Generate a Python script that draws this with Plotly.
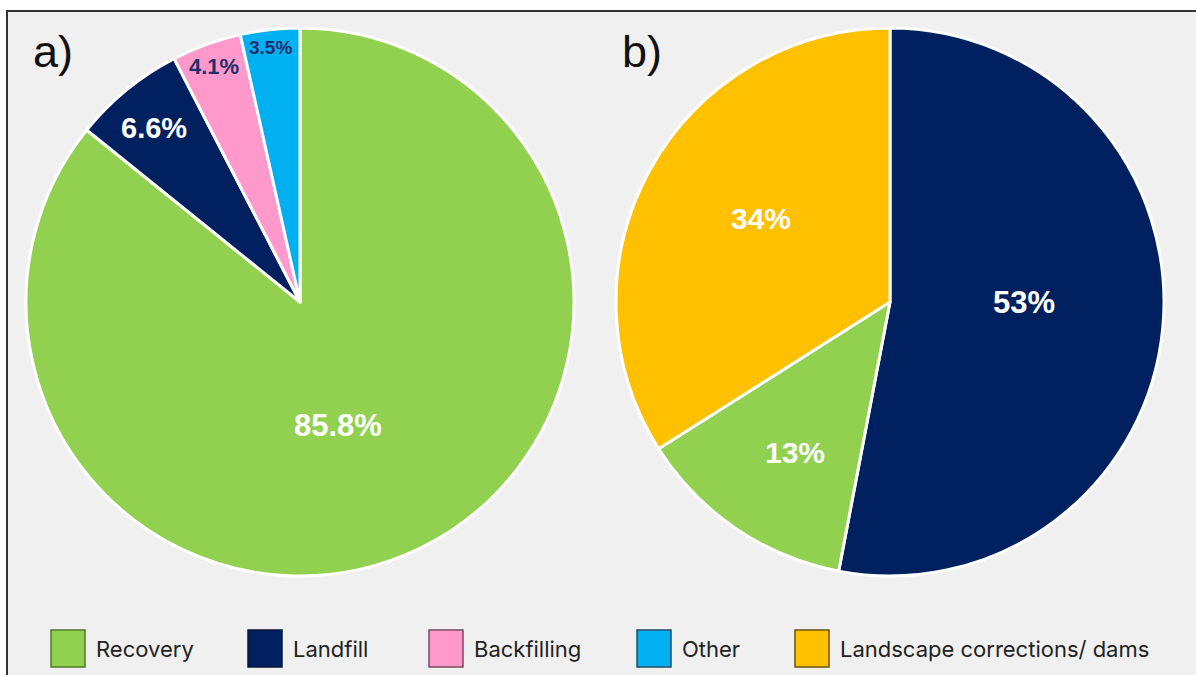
import math
import plotly.graph_objects as go

# Panel a) – fate of the material
cats_a = ["Recovery", "Landfill", "Backfilling", "Other"]
vals_a = [85.8, 6.6, 4.1, 3.5]
labels_a = ["85.8%", "6.6%", "4.1%", "3.5%"]

# Panel b) – uses of the recovered fraction
cats_b = ["Landfill", "Recovery", "Landscape corrections/ dams"]
vals_b = [53, 13, 34]
labels_b = ["53%", "13%", "34%"]

legend_items = ["Recovery", "Landfill", "Backfilling", "Other", "Landscape corrections/ dams"]

colors = {
    "Recovery": "#92d050",
    "Landfill": "#002060",
    "Backfilling": "#ff99cc",
    "Other": "#00b0f0",
    "Landscape corrections/ dams": "#ffc000",
}
edge_colors = {
    "Recovery": "#4f7a2a",
    "Landfill": "#0b1638",
    "Backfilling": "#7a4a60",
    "Other": "#1c4d66",
    "Landscape corrections/ dams": "#6b5210",
}

# label styling: colour, size, radial position (fraction of radius), angular nudge (deg)
lab_style_a = dict(color=["white", "white", "#1f2f6b", "#1f2f6b"], size=[31, 29, 22, 19],
                   rfrac=[0.473, 0.829, 0.915, 0.937], nudge=[8.6, -0.8, 0.0, -0.4])
lab_style_b = dict(color=["white", "white", "white"], size=[31, 30, 30],
                   rfrac=[0.489, 0.648, 0.56], nudge=[-5.0, -1.9, 4.0])

W, H = 1196, 675
def px_x(v):
    return v / W
def px_y(v):
    return 1 - v / H

# pie boxes in pixels (left, top, size)
box_a = (26, 28, 548)
box_b = (616, 28, 548)

fig = go.Figure()
shapes = [
    # framed light-grey panel
    dict(type="rect", xref="paper", yref="paper", x0=px_x(7), x1=1.01, y0=-0.01, y1=px_y(11),
         fillcolor="#f0f0f0", line=dict(color="#333333", width=2), layer="below"),
]
annotations = []

def add_pie(cats, vals, labels, style, box):
    left, top, size = box
    fig.add_trace(go.Pie(
        labels=cats, values=vals, textinfo="none",
        sort=False, direction="clockwise", rotation=0,
        marker=dict(colors=[colors[c] for c in cats], line=dict(color="white", width=3)),
        domain=dict(x=[px_x(left), px_x(left + size)], y=[px_y(top + size), px_y(top)]),
        showlegend=False, hoverinfo="label+percent",
    ))
    # value labels placed along each slice's bisector
    cx, cy, rad = left + size / 2, top + size / 2, size / 2
    total = sum(vals)
    start = 0.0
    for i, (v, lab) in enumerate(zip(vals, labels)):
        mid = (start + v / 2) / total * 360 + style["nudge"][i]
        start += v
        r = rad * style["rfrac"][i]
        x = cx + r * math.sin(math.radians(mid))
        y = cy - r * math.cos(math.radians(mid))
        annotations.append(dict(
            text="<b>%s</b>" % lab, x=px_x(x), y=px_y(y), xref="paper", yref="paper",
            xanchor="center", yanchor="middle", showarrow=False,
            font=dict(family="Liberation Sans, Arial", size=style["size"][i], color=style["color"][i]),
        ))

add_pie(cats_a, vals_a, labels_a, lab_style_a, box_a)
add_pie(cats_b, vals_b, labels_b, lab_style_b, box_b)

annotations += [
    dict(text="a)", x=px_x(31), y=px_y(52), xref="paper", yref="paper", xanchor="left",
         yanchor="middle", showarrow=False, font=dict(family="Liberation Sans, Arial", size=45, color="#111")),
    dict(text="b)", x=px_x(620), y=px_y(52), xref="paper", yref="paper", xanchor="left",
         yanchor="middle", showarrow=False, font=dict(family="Liberation Sans, Arial", size=45, color="#111")),
]

# custom legend with large square swatches
legend_x = [51, 248, 429, 637, 795]
for name, lx in zip(legend_items, legend_x):
    shapes.append(dict(type="rect", xref="paper", yref="paper",
                       x0=px_x(lx), x1=px_x(lx + 34), y0=px_y(667), y1=px_y(630),
                       fillcolor=colors[name], line=dict(color=edge_colors[name], width=1.5)))
    annotations.append(dict(text=name, x=px_x(lx + 43), y=px_y(649), xref="paper", yref="paper",
                            xanchor="left", yanchor="middle", showarrow=False,
                            font=dict(family="Inter, Roboto, sans-serif", size=22, color="#222")))

fig.update_layout(
    width=W, height=H, margin=dict(l=0, r=0, t=0, b=0),
    paper_bgcolor="white", plot_bgcolor="white",
    shapes=shapes, annotations=annotations,
)

fig.write_html("out.html")
